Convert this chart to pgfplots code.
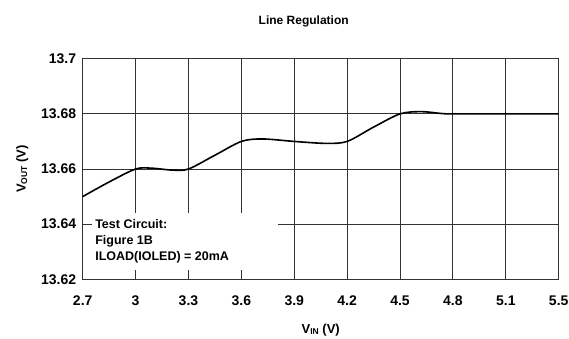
\documentclass[border=0pt]{standalone}
\usepackage{pgfplots}
\pgfplotsset{compat=1.18}
\usepackage{fontspec}
\setmainfont{Liberation Sans}
\begin{document}
\begin{tikzpicture}[x=1pt,y=1pt]
\path[use as bounding box] (0,0) rectangle (569,338);
\begin{axis}[
  at={(82.7pt,58.7pt)}, anchor=south west,
  scale only axis, width=476pt, height=220.6pt,
  xmin=0, xmax=9, ymin=13.62, ymax=13.70,
  xtick={0,1,2,3,4,5,6,7,8,9},
  xticklabels={2.7,3,3.3,3.6,3.9,4.2,4.5,4.8,5.1,5.5},
  ytick={13.62,13.64,13.66,13.68,13.70},
  yticklabels={13.62,13.64,13.66,13.68,13.7},
  major tick length=0pt,
  grid=major,
  major grid style={black!80, line width=1pt},
  axis line style={black!80, line width=1pt},
  tick label style={font=\fontsize{14}{16}\selectfont\bfseries},
  /pgf/number format/assume math mode=true,
  xticklabel style={yshift=-13pt},
  yticklabel style={xshift=-3pt},
  xlabel={V{\fontsize{8.5}{8}\selectfont\raisebox{-0.35ex}{IN}} (V)},
  ylabel={V{\fontsize{8.5}{8}\selectfont\raisebox{-0.35ex}{OUT}} (V)},
  label style={font=\fontsize{13}{15}\selectfont\bfseries},
  xlabel style={yshift=-11pt},
  ylabel style={yshift=6pt},
  title={Line Regulation},
  title style={font=\fontsize{12}{14}\selectfont\bfseries, yshift=22pt, xshift=-17pt},
  clip=false,
]
\node[fill=white, inner sep=0pt, minimum width=186pt, minimum height=57pt, anchor=south west] at (rel axis cs:0.02,0.04) {};
\node[anchor=base west, align=left, font=\fontsize{12.5}{16}\selectfont\bfseries, inner sep=0pt] at (rel axis cs:0.026,0.083) {Test Circuit:\\Figure 1B\\ILOAD(IOLED) = 20mA};
\addplot[black, line width=1.6pt, smooth, tension=0.5] coordinates {
(0,13.6500) (0.5,13.6553) (1,13.6600) (1.3,13.6603) (1.7,13.6596) (2,13.6600)
(2.5,13.6650) (3,13.6700) (3.4,13.6709) (4,13.6700) (4.6,13.6693) (5,13.6700)
(5.5,13.6752) (6,13.6800) (6.4,13.6808) (6.8,13.6801) (7,13.6800) (8,13.6800) (9,13.6800)
};
\end{axis}
\end{tikzpicture}
\end{document}
